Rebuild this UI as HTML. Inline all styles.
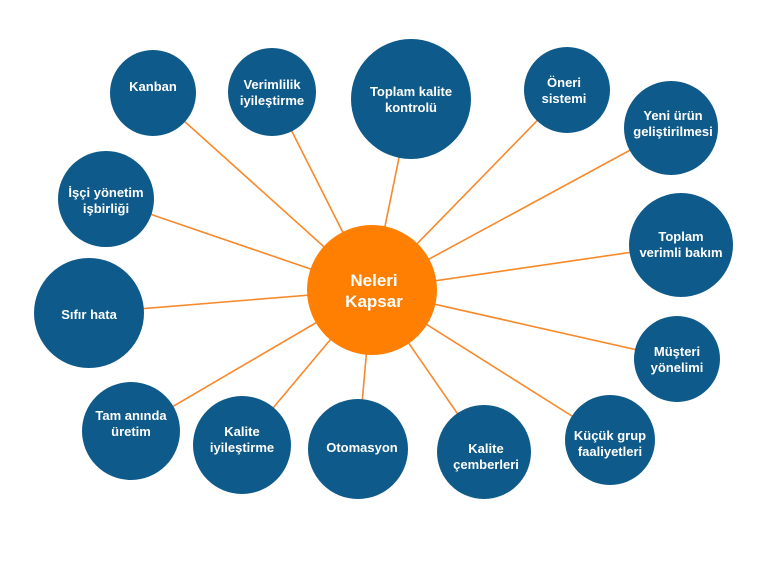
<!DOCTYPE html>
<html><head><meta charset="utf-8"><style>body{margin:0;background:#fff}svg{display:block}text{font-family:"Liberation Sans",sans-serif;font-weight:bold;fill:#fff;font-size:13px;text-anchor:middle}</style></head><body>
<svg width="768" height="576" viewBox="0 0 768 576">
<g stroke="#f7892a" stroke-width="1.6">
<line x1="372" y1="290" x2="153" y2="93"/><line x1="372" y1="290" x2="272" y2="92"/><line x1="372" y1="290" x2="411" y2="99"/><line x1="372" y1="290" x2="567" y2="90"/><line x1="372" y1="290" x2="671" y2="128"/><line x1="372" y1="290" x2="106" y2="199"/><line x1="372" y1="290" x2="681" y2="245"/><line x1="372" y1="290" x2="89" y2="313"/><line x1="372" y1="290" x2="677" y2="359"/><line x1="372" y1="290" x2="131" y2="431"/><line x1="372" y1="290" x2="242" y2="445"/><line x1="372" y1="290" x2="358" y2="449"/><line x1="372" y1="290" x2="484" y2="452"/><line x1="372" y1="290" x2="610" y2="440"/>
</g>
<g fill="#0e5a8a">
<circle cx="153" cy="93" r="43"/><circle cx="272" cy="92" r="44"/><circle cx="411" cy="99" r="60"/><circle cx="567" cy="90" r="43"/><circle cx="671" cy="128" r="47"/><circle cx="106" cy="199" r="48"/><circle cx="681" cy="245" r="52"/><circle cx="89" cy="313" r="55"/><circle cx="677" cy="359" r="43"/><circle cx="131" cy="431" r="49"/><circle cx="242" cy="445" r="49"/><circle cx="358" cy="449" r="50"/><circle cx="484" cy="452" r="47"/><circle cx="610" cy="440" r="45"/>
</g>
<circle cx="372" cy="290" r="65" fill="#fe7f01"/>
<text x="374" y="286" style="font-size:17px">Neleri</text><text x="374" y="307" style="font-size:17px">Kapsar</text>
<text x="153" y="91">Kanban</text>
<text x="272" y="89">Verimlilik</text><text x="272" y="105">iyileştirme</text>
<text x="411" y="96">Toplam kalite</text><text x="411" y="112">kontrolü</text>
<text x="564" y="87">Öneri</text><text x="564" y="103">sistemi</text>
<text x="673" y="120">Yeni ürün</text><text x="673" y="136">geliştirilmesi</text>
<text x="106" y="197">İşçi yönetim</text><text x="106" y="213">işbirliği</text>
<text x="681" y="241">Toplam</text><text x="681" y="257">verimli bakım</text>
<text x="89" y="319">Sıfır hata</text>
<text x="677" y="356">Müşteri</text><text x="677" y="372">yönelimi</text>
<text x="131" y="420">Tam anında</text><text x="131" y="436">üretim</text>
<text x="242" y="436">Kalite</text><text x="242" y="452">iyileştirme</text>
<text x="362" y="452">Otomasyon</text>
<text x="486" y="453">Kalite</text><text x="486" y="469">çemberleri</text>
<text x="610" y="440">Küçük grup</text><text x="610" y="456">faaliyetleri</text>
</svg>
</body></html>
